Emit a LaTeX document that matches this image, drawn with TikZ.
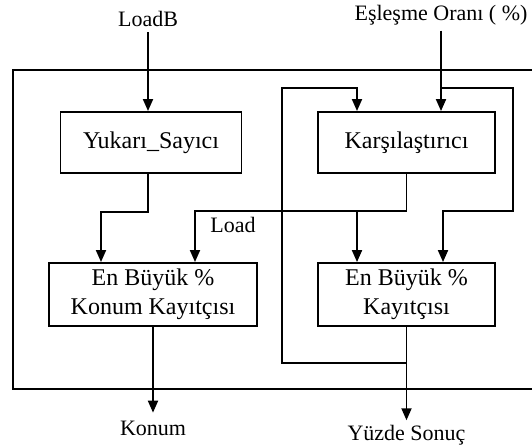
\documentclass[tikz,border=0pt]{standalone}
\usepackage{fontspec}
\setmainfont{Liberation Serif}
\usetikzlibrary{arrows.meta,calc}
\begin{document}
\begin{tikzpicture}[x=1pt,y=-1pt,
  line width=1.9pt,
  box/.style={draw, line width=1.9pt, align=center, inner sep=0pt,
    font=\fontsize{24}{29}\selectfont},
  lbl/.style={font=\fontsize{22}{26}\selectfont, inner sep=0pt},
  arr/.style={-{Triangle[width=10pt,length=12pt]}},
]
\useasboundingbox (0,0) rectangle (532,447);
% outer frame (right side outside the picture)
\draw (532,70) -- (13,70) -- (13,389) -- (532,389);
% boxes
\node[box, minimum width=181pt, minimum height=61pt] (ys) at (151,142.5) {Yukarı\_Sayıcı};
\node[box, minimum width=177pt, minimum height=61pt] (kar) at (406.5,142.5) {Karşılaştırıcı};
\node[box, minimum width=208pt, minimum height=63pt] (ebk) at (153,294.5) {En Büyük \%\\Konum Kayıtçısı};
\node[box, minimum width=177pt, minimum height=63pt] (eb) at (406.5,294.5) {En Büyük \%\\Kayıtçısı};
% labels
\node[lbl, anchor=base] (lb) at (148,27) {LoadB};
\node[lbl, anchor=base] (eo) at (441,20) {Eşleşme Oranı ( \%)};
\node[lbl, anchor=base] (ld) at (233,232) {Load};
\node[lbl, anchor=base] (kn) at (153,435) {Konum};
\node[lbl, anchor=base] (yz) at (406.5,440) {Yüzde Sonuç};
% junction coordinates
\coordinate (j1) at (101,212);
\coordinate (j2) at (195,211);
\coordinate (j3) at (357,211);
\coordinate (j4) at (441,88);
\coordinate (j5) at (513,211);
\coordinate (j6) at (443,211);
\coordinate (j7) at (406.5,363);
\coordinate (j8) at (282,88);
% connectors
\draw[arr, shorten <=4pt] (lb.south) -- (ys.north -| lb.south);
\draw[arr, shorten <=5pt] (eo.south) -- (kar.north -| eo.south);
\draw[arr] (ys.south -| lb.south) |- (j1) -- (ebk.north -| j1);
\draw[arr] (kar.south) |- (j2) -- (ebk.north -| j2);
\draw[arr] (j3) -- (eb.north -| j3);
\draw[arr] (j4) -| (j5) -- (j6) -- (eb.north -| j6);
\draw[arr] (j7) -| (j8) -| (kar.north -| j3);
\draw[arr, shorten >=7pt] (ebk.south) -- (kn.north);
\draw[arr, shorten >=3.5pt] (eb.south) -- (yz.north);
\end{tikzpicture}
\end{document}
